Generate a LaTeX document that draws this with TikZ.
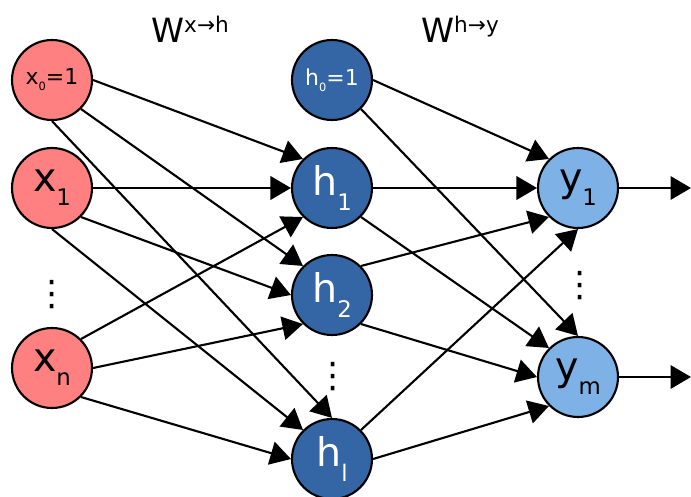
\documentclass[tikz,border=0pt]{standalone}
\usepackage{fontspec}
\setmainfont{DejaVu Sans}
\usetikzlibrary{arrows.meta}
\definecolor{inRed}{HTML}{FF8080}
\definecolor{hidBlue}{HTML}{3465A4}
\definecolor{outBlue}{HTML}{7EB1E6}
\newcommand{\neuronlbl}[2]{#1\raisebox{-8pt}{\fontsize{13}{13}\selectfont #2}}
\newcommand{\biaslbl}[2]{#1\raisebox{-3.4pt}{\fontsize{6.5}{7}\selectfont #2}=1}
\newcommand{\weightlbl}[1]{W\raisebox{6.2pt}{\fontsize{12.3}{13}\selectfont #1}}

\begin{document}
\begin{tikzpicture}[
  x=0.02cm, y=-0.02cm,
  neuron/.style={circle, draw, line width=1.2pt, minimum size=1.6cm, inner sep=0pt,
                 font=\fontsize{22.5}{23}\selectfont},
  bias/.style={neuron, font=\fontsize{12.5}{13}\selectfont},
  inp/.style={fill=inRed},
  hid/.style={fill=hidBlue, text=white},
  outp/.style={fill=outBlue},
  conn/.style={-{Triangle[length=0.41cm, width=0.47cm]}, line width=1.2pt},
  vdotsnode/.style={inner sep=0pt, font=\fontsize{20}{20}\selectfont},
  wlbl/.style={anchor=base, inner sep=0pt, font=\fontsize{19}{19}\selectfont}
]
\useasboundingbox (0,0) rectangle (691,497);
% input layer
\node[bias, inp] (x0) at (52,80) {\biaslbl{x}{0}};
\node[neuron, inp] (x1) at (52,188) {\neuronlbl{x}{1}};
\node[vdotsnode] (xdots) at (52,295) {⋮};
\node[neuron, inp] (xn) at (52,368) {\neuronlbl{x}{n}};
% hidden layer
\node[bias, hid] (h0) at (332,80) {\biaslbl{h}{0}};
\node[neuron, hid] (h1) at (332,188) {\neuronlbl{h}{1}};
\node[neuron, hid] (h2) at (332,295) {\neuronlbl{h}{2}};
\node[vdotsnode] (hdots) at (333,377) {⋮};
\node[neuron, hid] (hl) at (332,459) {\neuronlbl{h}{l}};
% output layer
\node[neuron, outp] (y1) at (578,188) {\neuronlbl{y}{1}};
\node[vdotsnode] (ydots) at (580,286) {⋮};
\node[neuron, outp] (ym) at (578,377) {\neuronlbl{y}{m}};
\coordinate (out1) at (691,188);
\coordinate (outm) at (691,377);
% weight labels
\node[wlbl] (wxh) at (190,43) {\weightlbl{x→h}};
\node[wlbl] (why) at (460,43) {\weightlbl{h→y}};
% input -> hidden
\draw[conn] (x0.east) -- (h1.north west);
\draw[conn] (x0.south east) -- (h2.north west);
\draw[conn] (x0.south) -- (hl.north);
\draw[conn] (x1.east) -- (h1.west);
\draw[conn] (x1.south east) -- (h2.west);
\draw[conn] (x1.south) -- (hl.north west);
\draw[conn] (xn.north east) -- (h1.south west);
\draw[conn] (xn.east) -- (h2.south west);
\draw[conn] (xn.south east) -- (hl.west);
% hidden -> output
\draw[conn] (h0.east) -- (y1.north west);
\draw[conn] (h0.south east) -- (ym.north);
\draw[conn] (h1.east) -- (y1.west);
\draw[conn] (h1.south east) -- (ym.north west);
\draw[conn] (h2.north east) -- (y1.south west);
\draw[conn] (h2.south east) -- (ym.west);
\draw[conn] (hl.north east) -- (y1.south);
\draw[conn] (hl.east) -- (ym.south west);
% outputs
\draw[conn] (y1.east) -- (out1);
\draw[conn] (ym.east) -- (outm);
\end{tikzpicture}
\end{document}
